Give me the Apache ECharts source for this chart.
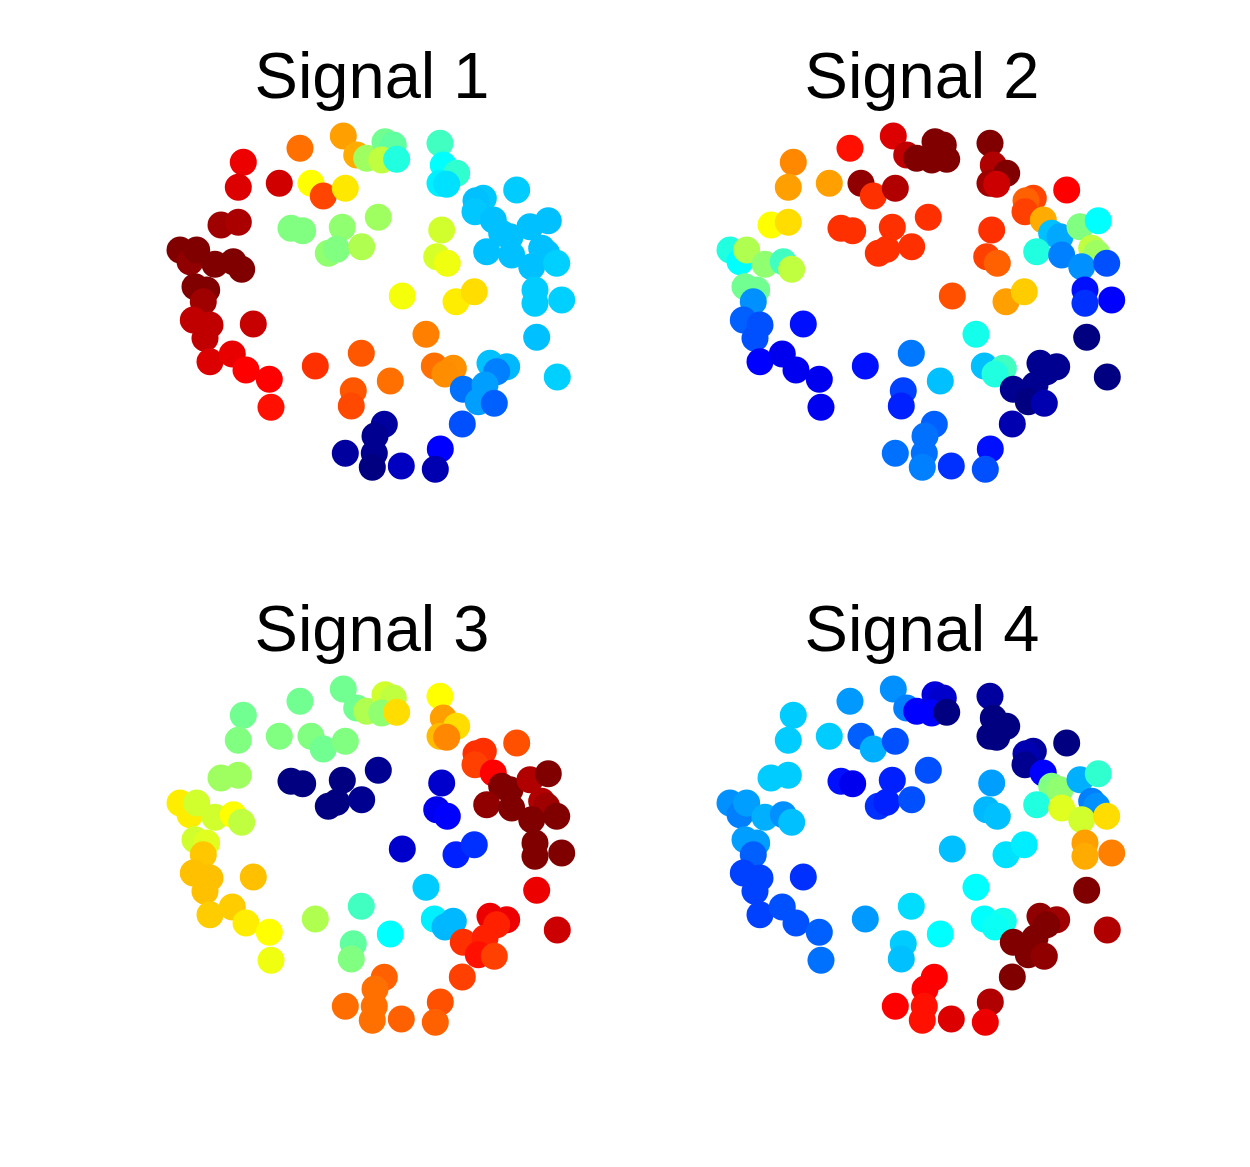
<!DOCTYPE html>
<html>
<head>
<meta charset="utf-8">
<script src="https://cdn.jsdelivr.net/npm/echarts@6/dist/echarts.min.js"></script>
<style>
html,body{margin:0;padding:0;background:#fff;}
#chart{width:1250px;height:1167px;}
</style>
</head>
<body>
<div id="chart"></div>
<script>
// Node coordinates (shared graph layout, same in all four panels)
const nodeX = [83.3,78.3,119.3,140,183.3,196.7,206.7,225,233.3,221.7,236.7,151,163.3,185.3,280,283.3,296.7,280,286.7,356.7,
  323.3,316,315,333.3,341.7,350,370,388.3,326.7,351.7,381.7,386.7,371.7,396.7,375,375,401.7,131,142.7,182.3,
  168.3,176.7,201.7,218.3,281.7,276.7,287.3,242.3,296,314.3,61,78.3,20,30,36.7,55,73.3,81.7,35,46.7,
  43.3,33.3,50,45,93.3,50,72.3,86,109.3,111,155.3,201.3,193.3,191.3,266,274.3,293.3,285,230.3,376.7,
  397.3,330,346.7,336.7,303.3,325,318.3,334.3,302.3,280.3,275.3,241.3,224.3,215,214.3,212.3,185.3];
const nodeY = [42.3,67.3,63.3,28.3,16,35,38.3,21.7,25,40,39.3,63.3,76,68.3,23.3,45,53.3,63.3,64.3,70,
  78.3,80.7,91.7,100,113.3,116.7,106.7,100.7,131.7,135,128.3,133.3,146.7,143.3,170,183.3,180,108.3,110.7,107.3,
  133.3,129.3,126.7,97.3,110,136.7,143.3,176,181.7,171.7,105,102.3,130,141.7,130,144.3,141.7,149.3,166.7,170,
  181.7,200,205,218.3,204,241.7,234,250,259.3,287.3,246,233.3,270.7,286,214.3,246,248.3,254,261,217.3,
  257,243.3,246.7,251.7,269.3,265,281.7,283.3,304,329,349.3,346,304.3,316,333.3,347.3,333.3];

// Signal values on the nodes (normalised 0..1, coloured with the jet map)
const signal1 = [.893,.908,.92,.766,.719,.708,.531,.484,.469,.5625,.406,.625,.808,.648,.4375,.375,.422,.36,.344,.325,
  .32,.3125,.32,.3125,.3125,.3125,.3125,.3125,.3125,.3125,.3125,.3125,.3125,.329,.325,.325,.329,.5,.5,.516,
  .516,.5,.547,.531,.58,.586,.61,.615,.643,.658,.969,.958,1,.984,1,1,1,1,1,1,
  .969,.9375,.9375,.9375,.93,.908,.898,.875,.875,.859,.828,.79,.79,.805,.75,.766,.734,.737,.766,.3125,
  .329,.3125,.305,.25,.234,.281,.281,.219,.203,.125,.047,.0625,.031,.016,.016,0,.031];
const signal2 = [.742,.719,.719,.859,.908,.9375,1,1,1,1,1,.984,.828,.953,1,.953,1,.969,.925,.875,
  .808,.781,.8125,.708,.3125,.29,.5,.375,.406,.25,.5625,.531,.266,.203,.141,.172,.125,.828,.828,.828,
  .828,.828,.828,.828,.828,.8125,.781,.797,.719,.675,.625,.658,.406,.375,.547,.516,.4375,.5625,.484,.484,
  .266,.219,.203,.203,.141,.125,.108,.11,.11,.11,.141,.242,.1875,.156,.395,.3125,.4375,.406,.3125,0,
  0,.016,.016,.016,.016,.016,0,.047,.047,.141,.203,.172,.219,.234,.234,.25,.234];
const signal3 = [.484,.5,.5,.484,.484,.484,.547,.58,.5625,.516,.658,.5,.484,.5,.625,.719,.658,.692,.742,.797,
  .828,.828,.8125,.875,1,1,.953,1,.984,1,.953,.969,1,1,1,1,1,0,0,0,
  0,0,.016,.016,.075,.108,.125,.075,.156,.172,.531,.531,.643,.643,.58,.58,.625,.5625,.58,.594,
  .68,.6875,.6875,.6875,.6875,.675,.675,.643,.625,.61,.547,.4375,.469,.5,.325,.36,.305,.305,.375,.893,
  .925,.893,.893,.844,.828,.844,.859,.8125,.8125,.797,.781,.781,.781,.766,.766,.766,.77];
const signal4 = [.325,.325,.325,.275,.266,.25,.125,.092,.075,.125,0,.219,.297,.203,.031,0,0,0,0,0,
  .031,.047,.016,.125,.5,.516,.297,.422,.406,.594,.25,.266,.58,.658,.719,.708,.75,.141,.108,.156,
  .172,.156,.203,.203,.281,.305,.3125,.3125,.344,.358,.325,.325,.266,.25,.281,.297,.266,.3125,.281,.281,
  .219,.1875,.1875,.1875,.172,.1875,.203,.203,.219,.234,.275,.342,.325,.3125,.375,.375,.395,.385,.375,1,
  .953,.984,.969,1,1,1,1,.984,1,.953,.893,.908,.875,.875,.859,.859,.875];

const titles = ['Signal 1','Signal 2','Signal 3','Signal 4'];
const signals = [signal1, signal2, signal3, signal4];

const jet = ['#000080','#0000ff','#0080ff','#00ffff','#80ff80','#ffff00','#ff8000','#ff0000','#800000'];

const panelLeft = [160, 710, 160, 710];
const panelTop = [120, 120, 673, 673];
const panelW = 420, panelH = 370;

const chart = echarts.init(document.getElementById('chart'), null, {renderer: 'canvas'});

const grid = [], xAxis = [], yAxis = [], series = [], title = [];
for (let i = 0; i < 4; i++) {
  grid.push({left: panelLeft[i], top: panelTop[i], width: panelW, height: panelH, containLabel: false});
  xAxis.push({gridIndex: i, type: 'value', min: 0, max: 420, show: false, splitLine: {show: false}});
  yAxis.push({gridIndex: i, type: 'value', min: 0, max: 370, inverse: true, show: false, splitLine: {show: false}});
  series.push({
    type: 'scatter',
    xAxisIndex: i, yAxisIndex: i,
    symbol: 'circle', symbolSize: 27,
    itemStyle: {opacity: 1},
    emphasis: {disabled: true},
    animation: false,
    data: nodeX.map((x, k) => [x, nodeY[k], signals[i][k]])
  });
  title.push({
    text: titles[i],
    left: panelLeft[i] + panelW / 2 - 3,
    top: panelTop[i] - 77,
    textAlign: 'center',
    textStyle: {fontFamily: 'Liberation Sans, Arial, Helvetica, sans-serif', fontSize: 65, fontWeight: 'normal', color: '#000'}
  });
}

chart.setOption({
  backgroundColor: '#ffffff',
  animation: false,
  title: title,
  grid: grid,
  xAxis: xAxis,
  yAxis: yAxis,
  visualMap: {
    type: 'continuous', show: false, min: 0, max: 1, dimension: 2,
    seriesIndex: [0, 1, 2, 3],
    inRange: {color: jet}
  },
  series: series
});
</script>
</body>
</html>
